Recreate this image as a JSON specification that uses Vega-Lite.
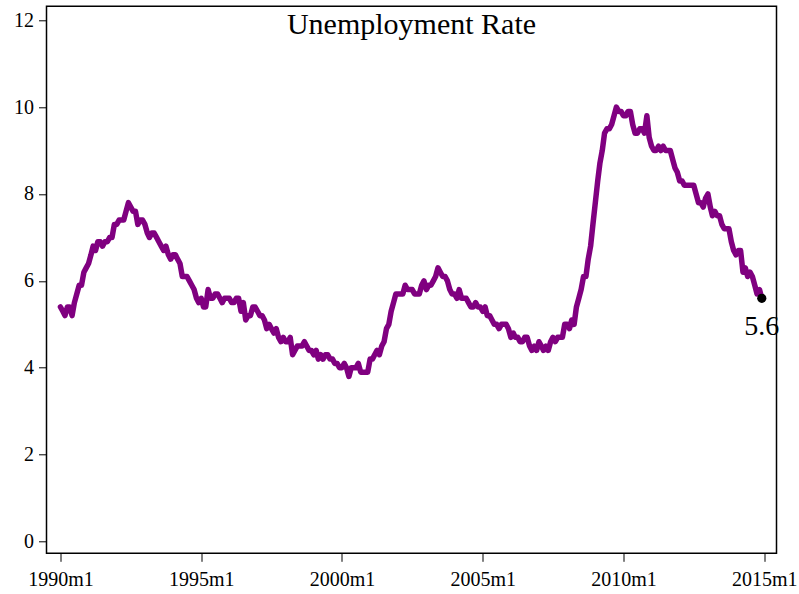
{
  "$schema": "https://vega.github.io/schema/vega-lite/v6.json",
  "autosize": "none",
  "width": 730,
  "height": 547,
  "padding": {"left": 46.5, "top": 6.3, "right": 22.5, "bottom": 40.7},
  "background": "white",
  "config": {
    "view": {"stroke": "black", "strokeWidth": 1.5},
    "font": "Liberation Serif"
  },
  "title": {
    "text": "Unemployment Rate",
    "font": "Liberation Serif",
    "fontSize": 30,
    "fontWeight": "normal",
    "color": "black",
    "anchor": "middle",
    "frame": "group",
    "baseline": "alphabetic",
    "offset": -58
  },
  "datasets": {
    "series": [
      {"d":"1990-01-01","u":5.4},{"d":"1990-02-01","u":5.3},{"d":"1990-03-01","u":5.2},{"d":"1990-04-01","u":5.4},{"d":"1990-05-01","u":5.4},{"d":"1990-06-01","u":5.2},{"d":"1990-07-01","u":5.5},{"d":"1990-08-01","u":5.7},{"d":"1990-09-01","u":5.9},{"d":"1990-10-01","u":5.9},{"d":"1990-11-01","u":6.2},{"d":"1990-12-01","u":6.3},
      {"d":"1991-01-01","u":6.4},{"d":"1991-02-01","u":6.6},{"d":"1991-03-01","u":6.8},{"d":"1991-04-01","u":6.7},{"d":"1991-05-01","u":6.9},{"d":"1991-06-01","u":6.9},{"d":"1991-07-01","u":6.8},{"d":"1991-08-01","u":6.9},{"d":"1991-09-01","u":6.9},{"d":"1991-10-01","u":7.0},{"d":"1991-11-01","u":7.0},{"d":"1991-12-01","u":7.3},
      {"d":"1992-01-01","u":7.3},{"d":"1992-02-01","u":7.4},{"d":"1992-03-01","u":7.4},{"d":"1992-04-01","u":7.4},{"d":"1992-05-01","u":7.6},{"d":"1992-06-01","u":7.8},{"d":"1992-07-01","u":7.7},{"d":"1992-08-01","u":7.6},{"d":"1992-09-01","u":7.6},{"d":"1992-10-01","u":7.3},{"d":"1992-11-01","u":7.4},{"d":"1992-12-01","u":7.4},
      {"d":"1993-01-01","u":7.3},{"d":"1993-02-01","u":7.1},{"d":"1993-03-01","u":7.0},{"d":"1993-04-01","u":7.1},{"d":"1993-05-01","u":7.1},{"d":"1993-06-01","u":7.0},{"d":"1993-07-01","u":6.9},{"d":"1993-08-01","u":6.8},{"d":"1993-09-01","u":6.7},{"d":"1993-10-01","u":6.8},{"d":"1993-11-01","u":6.6},{"d":"1993-12-01","u":6.5},
      {"d":"1994-01-01","u":6.6},{"d":"1994-02-01","u":6.6},{"d":"1994-03-01","u":6.5},{"d":"1994-04-01","u":6.4},{"d":"1994-05-01","u":6.1},{"d":"1994-06-01","u":6.1},{"d":"1994-07-01","u":6.1},{"d":"1994-08-01","u":6.0},{"d":"1994-09-01","u":5.9},{"d":"1994-10-01","u":5.8},{"d":"1994-11-01","u":5.6},{"d":"1994-12-01","u":5.5},
      {"d":"1995-01-01","u":5.6},{"d":"1995-02-01","u":5.4},{"d":"1995-03-01","u":5.4},{"d":"1995-04-01","u":5.8},{"d":"1995-05-01","u":5.6},{"d":"1995-06-01","u":5.6},{"d":"1995-07-01","u":5.7},{"d":"1995-08-01","u":5.7},{"d":"1995-09-01","u":5.6},{"d":"1995-10-01","u":5.5},{"d":"1995-11-01","u":5.6},{"d":"1995-12-01","u":5.6},
      {"d":"1996-01-01","u":5.6},{"d":"1996-02-01","u":5.5},{"d":"1996-03-01","u":5.5},{"d":"1996-04-01","u":5.6},{"d":"1996-05-01","u":5.6},{"d":"1996-06-01","u":5.3},{"d":"1996-07-01","u":5.5},{"d":"1996-08-01","u":5.1},{"d":"1996-09-01","u":5.2},{"d":"1996-10-01","u":5.2},{"d":"1996-11-01","u":5.4},{"d":"1996-12-01","u":5.4},
      {"d":"1997-01-01","u":5.3},{"d":"1997-02-01","u":5.2},{"d":"1997-03-01","u":5.2},{"d":"1997-04-01","u":5.1},{"d":"1997-05-01","u":4.9},{"d":"1997-06-01","u":5.0},{"d":"1997-07-01","u":4.9},{"d":"1997-08-01","u":4.8},{"d":"1997-09-01","u":4.9},{"d":"1997-10-01","u":4.7},{"d":"1997-11-01","u":4.6},{"d":"1997-12-01","u":4.7},
      {"d":"1998-01-01","u":4.6},{"d":"1998-02-01","u":4.6},{"d":"1998-03-01","u":4.7},{"d":"1998-04-01","u":4.3},{"d":"1998-05-01","u":4.4},{"d":"1998-06-01","u":4.5},{"d":"1998-07-01","u":4.5},{"d":"1998-08-01","u":4.5},{"d":"1998-09-01","u":4.6},{"d":"1998-10-01","u":4.5},{"d":"1998-11-01","u":4.4},{"d":"1998-12-01","u":4.4},
      {"d":"1999-01-01","u":4.3},{"d":"1999-02-01","u":4.4},{"d":"1999-03-01","u":4.2},{"d":"1999-04-01","u":4.3},{"d":"1999-05-01","u":4.2},{"d":"1999-06-01","u":4.3},{"d":"1999-07-01","u":4.3},{"d":"1999-08-01","u":4.2},{"d":"1999-09-01","u":4.2},{"d":"1999-10-01","u":4.1},{"d":"1999-11-01","u":4.1},{"d":"1999-12-01","u":4.0},
      {"d":"2000-01-01","u":4.0},{"d":"2000-02-01","u":4.1},{"d":"2000-03-01","u":4.0},{"d":"2000-04-01","u":3.8},{"d":"2000-05-01","u":4.0},{"d":"2000-06-01","u":4.0},{"d":"2000-07-01","u":4.0},{"d":"2000-08-01","u":4.1},{"d":"2000-09-01","u":3.9},{"d":"2000-10-01","u":3.9},{"d":"2000-11-01","u":3.9},{"d":"2000-12-01","u":3.9},
      {"d":"2001-01-01","u":4.2},{"d":"2001-02-01","u":4.2},{"d":"2001-03-01","u":4.3},{"d":"2001-04-01","u":4.4},{"d":"2001-05-01","u":4.3},{"d":"2001-06-01","u":4.5},{"d":"2001-07-01","u":4.6},{"d":"2001-08-01","u":4.9},{"d":"2001-09-01","u":5.0},{"d":"2001-10-01","u":5.3},{"d":"2001-11-01","u":5.5},{"d":"2001-12-01","u":5.7},
      {"d":"2002-01-01","u":5.7},{"d":"2002-02-01","u":5.7},{"d":"2002-03-01","u":5.7},{"d":"2002-04-01","u":5.9},{"d":"2002-05-01","u":5.8},{"d":"2002-06-01","u":5.8},{"d":"2002-07-01","u":5.8},{"d":"2002-08-01","u":5.7},{"d":"2002-09-01","u":5.7},{"d":"2002-10-01","u":5.7},{"d":"2002-11-01","u":5.9},{"d":"2002-12-01","u":6.0},
      {"d":"2003-01-01","u":5.8},{"d":"2003-02-01","u":5.9},{"d":"2003-03-01","u":5.9},{"d":"2003-04-01","u":6.0},{"d":"2003-05-01","u":6.1},{"d":"2003-06-01","u":6.3},{"d":"2003-07-01","u":6.2},{"d":"2003-08-01","u":6.1},{"d":"2003-09-01","u":6.1},{"d":"2003-10-01","u":6.0},{"d":"2003-11-01","u":5.8},{"d":"2003-12-01","u":5.7},
      {"d":"2004-01-01","u":5.7},{"d":"2004-02-01","u":5.6},{"d":"2004-03-01","u":5.8},{"d":"2004-04-01","u":5.6},{"d":"2004-05-01","u":5.6},{"d":"2004-06-01","u":5.6},{"d":"2004-07-01","u":5.5},{"d":"2004-08-01","u":5.4},{"d":"2004-09-01","u":5.4},{"d":"2004-10-01","u":5.5},{"d":"2004-11-01","u":5.4},{"d":"2004-12-01","u":5.4},
      {"d":"2005-01-01","u":5.3},{"d":"2005-02-01","u":5.4},{"d":"2005-03-01","u":5.2},{"d":"2005-04-01","u":5.2},{"d":"2005-05-01","u":5.1},{"d":"2005-06-01","u":5.0},{"d":"2005-07-01","u":5.0},{"d":"2005-08-01","u":4.9},{"d":"2005-09-01","u":5.0},{"d":"2005-10-01","u":5.0},{"d":"2005-11-01","u":5.0},{"d":"2005-12-01","u":4.9},
      {"d":"2006-01-01","u":4.7},{"d":"2006-02-01","u":4.8},{"d":"2006-03-01","u":4.7},{"d":"2006-04-01","u":4.7},{"d":"2006-05-01","u":4.6},{"d":"2006-06-01","u":4.6},{"d":"2006-07-01","u":4.7},{"d":"2006-08-01","u":4.7},{"d":"2006-09-01","u":4.5},{"d":"2006-10-01","u":4.4},{"d":"2006-11-01","u":4.5},{"d":"2006-12-01","u":4.4},
      {"d":"2007-01-01","u":4.6},{"d":"2007-02-01","u":4.5},{"d":"2007-03-01","u":4.4},{"d":"2007-04-01","u":4.5},{"d":"2007-05-01","u":4.4},{"d":"2007-06-01","u":4.6},{"d":"2007-07-01","u":4.7},{"d":"2007-08-01","u":4.6},{"d":"2007-09-01","u":4.7},{"d":"2007-10-01","u":4.7},{"d":"2007-11-01","u":4.7},{"d":"2007-12-01","u":5.0},
      {"d":"2008-01-01","u":5.0},{"d":"2008-02-01","u":4.9},{"d":"2008-03-01","u":5.1},{"d":"2008-04-01","u":5.0},{"d":"2008-05-01","u":5.4},{"d":"2008-06-01","u":5.6},{"d":"2008-07-01","u":5.8},{"d":"2008-08-01","u":6.1},{"d":"2008-09-01","u":6.1},{"d":"2008-10-01","u":6.5},{"d":"2008-11-01","u":6.8},{"d":"2008-12-01","u":7.3},
      {"d":"2009-01-01","u":7.8},{"d":"2009-02-01","u":8.3},{"d":"2009-03-01","u":8.7},{"d":"2009-04-01","u":9.0},{"d":"2009-05-01","u":9.4},{"d":"2009-06-01","u":9.5},{"d":"2009-07-01","u":9.5},{"d":"2009-08-01","u":9.6},{"d":"2009-09-01","u":9.8},{"d":"2009-10-01","u":10.0},{"d":"2009-11-01","u":9.9},{"d":"2009-12-01","u":9.9},
      {"d":"2010-01-01","u":9.8},{"d":"2010-02-01","u":9.8},{"d":"2010-03-01","u":9.9},{"d":"2010-04-01","u":9.9},{"d":"2010-05-01","u":9.6},{"d":"2010-06-01","u":9.4},{"d":"2010-07-01","u":9.4},{"d":"2010-08-01","u":9.5},{"d":"2010-09-01","u":9.5},{"d":"2010-10-01","u":9.4},{"d":"2010-11-01","u":9.8},{"d":"2010-12-01","u":9.3},
      {"d":"2011-01-01","u":9.1},{"d":"2011-02-01","u":9.0},{"d":"2011-03-01","u":9.0},{"d":"2011-04-01","u":9.1},{"d":"2011-05-01","u":9.0},{"d":"2011-06-01","u":9.1},{"d":"2011-07-01","u":9.0},{"d":"2011-08-01","u":9.0},{"d":"2011-09-01","u":9.0},{"d":"2011-10-01","u":8.8},{"d":"2011-11-01","u":8.6},{"d":"2011-12-01","u":8.5},
      {"d":"2012-01-01","u":8.3},{"d":"2012-02-01","u":8.3},{"d":"2012-03-01","u":8.2},{"d":"2012-04-01","u":8.2},{"d":"2012-05-01","u":8.2},{"d":"2012-06-01","u":8.2},{"d":"2012-07-01","u":8.2},{"d":"2012-08-01","u":8.0},{"d":"2012-09-01","u":7.8},{"d":"2012-10-01","u":7.8},{"d":"2012-11-01","u":7.7},{"d":"2012-12-01","u":7.9},
      {"d":"2013-01-01","u":8.0},{"d":"2013-02-01","u":7.7},{"d":"2013-03-01","u":7.5},{"d":"2013-04-01","u":7.6},{"d":"2013-05-01","u":7.5},{"d":"2013-06-01","u":7.5},{"d":"2013-07-01","u":7.3},{"d":"2013-08-01","u":7.2},{"d":"2013-09-01","u":7.2},{"d":"2013-10-01","u":7.2},{"d":"2013-11-01","u":6.9},{"d":"2013-12-01","u":6.7},
      {"d":"2014-01-01","u":6.6},{"d":"2014-02-01","u":6.7},{"d":"2014-03-01","u":6.7},{"d":"2014-04-01","u":6.2},{"d":"2014-05-01","u":6.3},{"d":"2014-06-01","u":6.1},{"d":"2014-07-01","u":6.2},{"d":"2014-08-01","u":6.1},{"d":"2014-09-01","u":5.9},{"d":"2014-10-01","u":5.7},{"d":"2014-11-01","u":5.8},{"d":"2014-12-01","u":5.6}
    ],
    "last": [{"d":"2014-12-01","u":5.6}]
  },
  "encoding": {
    "x": {
      "field": "d",
      "type": "temporal",
      "scale": {
        "type": "utc",
        "domain": [
          {"year": 1989, "month": 7, "date": 4, "utc": true},
          {"year": 2015, "month": 6, "date": 10, "utc": true}
        ],
        "nice": false
      },
      "axis": {
        "title": null,
        "grid": false,
        "domain": false,
        "values": [
          {"year": 1990, "month": 1, "date": 1, "utc": true},
          {"year": 1995, "month": 1, "date": 1, "utc": true},
          {"year": 2000, "month": 1, "date": 1, "utc": true},
          {"year": 2005, "month": 1, "date": 1, "utc": true},
          {"year": 2010, "month": 1, "date": 1, "utc": true},
          {"year": 2015, "month": 1, "date": 1, "utc": true}
        ],
        "labelExpr": "utcFormat(datum.value, '%Y') + 'm1'",
        "tickSize": 8,
        "tickColor": "black",
        "tickWidth": 1,
        "labelFont": "Liberation Serif",
        "labelFontSize": 20,
        "labelColor": "black",
        "labelPadding": 8,
        "labelFlush": false,
        "labelOverlap": false
      }
    },
    "y": {
      "field": "u",
      "type": "quantitative",
      "scale": {"domain": [-0.27, 12.32], "nice": false, "zero": false},
      "axis": {
        "title": null,
        "grid": false,
        "domain": false,
        "values": [0, 2, 4, 6, 8, 10, 12],
        "tickSize": 8,
        "tickColor": "black",
        "tickWidth": 1,
        "labelFont": "Liberation Serif",
        "labelFontSize": 20,
        "labelColor": "black",
        "labelPadding": 5,
        "labelFlush": false,
        "labelOverlap": false
      }
    }
  },
  "layer": [
    {
      "data": {"name": "series"},
      "mark": {"type": "line", "color": "#800080", "strokeWidth": 5.5, "strokeJoin": "round", "strokeCap": "round"}
    },
    {
      "data": {"name": "last"},
      "mark": {"type": "point", "filled": true, "color": "black", "size": 85, "opacity": 1}
    },
    {
      "data": {"name": "last"},
      "mark": {"type": "text", "font": "Liberation Serif", "fontSize": 28, "color": "black", "align": "center", "baseline": "alphabetic", "dy": 37, "clip": false},
      "encoding": {"text": {"field": "u", "type": "quantitative", "format": ".1f"}}
    }
  ]
}
